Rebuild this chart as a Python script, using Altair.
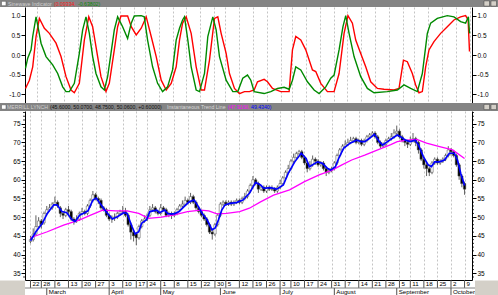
import altair as alt
import pandas as pd

# ---------------- data ----------------
week_idx = [0, 4, 9, 14, 19, 24, 29, 34, 39, 43, 48, 53, 58, 63, 68, 72, 77, 82, 87, 92,
            96, 101, 106, 111, 116, 121, 126, 131, 136, 140, 145, 150, 155, 160]
week_lbl = ["22", "28", "6", "13", "20", "27", "3", "10", "17", "24", "1", "8", "15", "22", "30",
            "5", "12", "19", "26", "3", "10", "17", "24", "31", "7", "14", "21", "28", "5", "11",
            "18", "25", "2", "9"]
month_idx = [6, 29, 48, 70, 92, 112, 135, 155]
month_lbl = ["March", "April", "May", "June", "July", "August", "September", "October"]

open_ = [43.5, 44.0, 45.5, 47.5, 49.0, 48.5, 51.0, 52.0, 52.5, 53.5,
         54.0, 52.5, 51.0, 50.5, 52.0, 51.5, 49.5, 49.0, 49.5, 51.0,
         51.5, 51.0, 53.0, 54.5, 56.0, 55.0, 54.5, 52.5, 52.0, 50.5,
         49.5, 50.0, 50.0, 51.0, 51.5, 51.5, 50.5, 48.0, 46.0, 45.5,
         44.5, 47.5, 49.0, 49.5, 50.5, 52.0, 52.5, 51.5, 51.0, 52.5,
         52.0, 50.5, 51.0, 50.5, 51.0, 52.0, 53.0, 53.5, 54.5, 54.0,
         55.5, 54.0, 52.5, 51.5, 50.5, 49.5, 48.0, 46.0, 45.5, 48.0,
         50.5, 53.5, 54.0, 53.5, 54.0, 53.5, 54.0, 54.5, 54.0, 55.0,
         55.5, 57.0, 58.5, 60.0, 59.0, 57.5, 58.0, 57.0, 58.0, 57.5,
         57.5, 57.0, 58.0, 59.0, 60.5, 62.0, 63.0, 65.0, 66.0, 67.0,
         67.5, 66.0, 64.5, 63.0, 64.0, 65.5, 65.0, 64.0, 64.5, 63.0,
         62.0, 62.5, 63.0, 64.5, 66.5, 68.0, 69.0, 69.5, 70.0, 70.5,
         71.0, 70.0, 70.5, 69.5, 70.5, 71.5, 72.0, 72.5, 71.5, 70.0,
         69.0, 69.5, 70.5, 71.0, 71.5, 72.5, 73.0, 71.5, 70.5, 70.0,
         69.5, 70.5, 71.0, 70.0, 68.0, 65.5, 64.0, 63.0, 62.0, 64.5,
         65.5, 64.5, 65.0, 65.5, 66.5, 68.0, 67.5, 66.5, 64.0, 61.0,
         59.0]
high = [45.0, 47.0, 50.5, 50.0, 49.5, 51.5, 53.0, 53.5, 54.0, 55.5,
        54.5, 53.0, 51.5, 52.5, 53.0, 52.0, 50.0, 50.5, 51.5, 52.5,
        52.0, 53.5, 55.0, 57.0, 56.5, 55.5, 55.0, 53.0, 52.5, 51.0,
        50.5, 51.0, 51.5, 52.0, 53.0, 52.5, 51.0, 48.5, 46.5, 46.0,
        48.0, 49.5, 50.5, 51.0, 53.0, 53.5, 53.0, 52.0, 53.5, 53.0,
        52.5, 51.5, 51.5, 51.5, 52.5, 53.5, 54.5, 55.5, 55.0, 56.5,
        56.0, 54.5, 53.0, 52.0, 51.0, 50.0, 48.5, 47.0, 48.5, 51.0,
        54.0, 54.5, 54.5, 54.5, 54.5, 54.5, 55.0, 55.0, 55.5, 56.5,
        57.5, 59.0, 61.0, 60.5, 59.5, 58.5, 58.5, 58.5, 58.5, 58.5,
        58.0, 58.5, 60.0, 61.0, 62.5, 64.0, 65.5, 67.0, 67.5, 68.0,
        68.0, 66.5, 65.0, 65.0, 66.5, 66.0, 65.5, 65.0, 65.0, 63.5,
        63.0, 63.5, 65.0, 67.0, 68.5, 69.5, 70.5, 71.0, 71.5, 71.5,
        71.5, 71.0, 71.0, 71.0, 72.0, 72.5, 73.0, 73.0, 72.0, 70.5,
        70.0, 71.0, 71.5, 72.5, 73.5, 74.5, 73.5, 72.0, 71.0, 70.5,
        71.5, 72.5, 71.5, 70.5, 68.5, 66.0, 64.5, 63.5, 65.0, 66.0,
        66.0, 65.5, 66.0, 67.0, 69.0, 68.5, 68.0, 67.0, 64.5, 61.5,
        59.5]
low = [43.0, 43.5, 45.0, 47.0, 47.0, 48.0, 50.5, 51.5, 52.0, 53.0,
       52.5, 50.0, 49.5, 50.0, 50.5, 49.0, 48.0, 48.5, 49.0, 50.5,
       50.5, 50.5, 52.5, 54.0, 54.5, 53.5, 52.0, 51.5, 50.0, 49.0,
       48.5, 49.0, 49.5, 50.5, 51.0, 50.0, 47.5, 44.0, 43.5, 42.5,
       44.0, 47.0, 48.5, 49.0, 50.0, 51.5, 51.0, 50.5, 50.5, 51.5,
       50.0, 50.0, 49.5, 50.0, 50.5, 51.5, 52.5, 53.0, 53.5, 53.5,
       53.5, 52.0, 51.0, 50.0, 49.0, 47.5, 45.5, 44.0, 45.0, 47.5,
       50.0, 53.0, 53.0, 53.0, 53.0, 53.0, 53.5, 53.5, 53.5, 54.5,
       55.0, 56.5, 58.0, 58.5, 56.5, 57.0, 56.5, 56.5, 57.0, 57.0,
       56.5, 56.5, 57.5, 58.5, 60.0, 61.5, 62.5, 64.5, 65.5, 66.5,
       65.5, 64.0, 62.0, 62.5, 63.5, 64.0, 63.5, 63.5, 62.5, 61.0,
       61.5, 62.0, 62.5, 64.0, 66.0, 67.5, 68.5, 69.0, 69.5, 70.0,
       69.5, 69.5, 69.0, 69.0, 70.0, 71.0, 71.5, 71.0, 69.5, 68.5,
       68.5, 69.0, 70.0, 70.5, 71.0, 72.0, 71.0, 70.0, 69.0, 68.5,
       69.0, 70.0, 69.0, 67.0, 65.0, 63.0, 61.0, 61.0, 61.5, 64.0,
       64.0, 64.0, 64.5, 65.0, 66.0, 66.5, 66.0, 63.5, 60.0, 58.0,
       56.0]
close = [44.0, 45.5, 47.5, 49.0, 48.0, 51.0, 52.0, 52.5, 53.5, 54.0,
         53.0, 51.0, 50.5, 52.0, 51.5, 49.5, 49.0, 49.5, 51.0, 51.5,
         51.0, 53.0, 54.5, 56.0, 55.0, 54.5, 52.5, 52.0, 50.5, 49.5,
         50.0, 50.0, 51.0, 51.5, 51.5, 50.5, 48.0, 46.0, 45.0, 44.5,
         47.5, 49.0, 49.5, 50.5, 52.0, 52.5, 51.5, 51.0, 52.5, 52.0,
         50.5, 51.0, 50.5, 51.0, 52.0, 53.0, 53.5, 54.5, 54.0, 55.5,
         54.0, 52.5, 51.5, 50.5, 49.5, 48.0, 46.0, 45.5, 48.0, 50.5,
         53.5, 54.0, 53.5, 54.0, 53.5, 54.0, 54.5, 54.0, 55.0, 55.5,
         57.0, 58.5, 60.0, 59.0, 57.5, 58.0, 57.0, 58.0, 57.5, 57.5,
         57.0, 58.0, 59.0, 60.5, 62.0, 63.0, 65.0, 66.0, 67.0, 67.5,
         66.0, 64.5, 63.0, 64.0, 65.5, 65.0, 64.0, 64.5, 63.0, 62.0,
         62.5, 63.0, 64.5, 66.5, 68.0, 69.0, 69.5, 70.0, 70.5, 71.0,
         70.0, 70.5, 69.5, 70.5, 71.5, 72.0, 72.5, 71.5, 70.0, 69.0,
         69.5, 70.5, 71.0, 71.5, 72.5, 73.0, 71.5, 70.5, 70.0, 69.5,
         70.5, 71.0, 70.0, 68.0, 65.5, 64.0, 63.0, 62.0, 64.5, 65.5,
         64.5, 65.0, 65.5, 66.5, 68.0, 67.5, 66.5, 64.0, 61.0, 59.0,
         57.5]

trend_x = [0, 2.0, 4.4, 6.2, 8.6, 9.8, 11.6, 13.4, 15.2, 16.4, 18.2, 20.0, 21.2, 23.0, 24.2,
           26.0, 27.8, 30.2, 32.0, 34.4, 35.6, 37.4, 38.6, 39.9, 41.0, 42.8, 44.0, 46.5, 47.6,
           49.4, 50.7, 53.0, 54.8, 56.6, 58.5, 60.3, 61.5, 63.3, 65.1, 66.9, 68.1, 69.3, 70.5,
           71.7, 73.5, 75.9, 78.3, 80.7, 83.0, 84.8, 86.0, 88.4, 90.8, 93.2, 95.0, 97.4, 99.8,
           101.6, 102.8, 104.0, 105.8, 107.6, 109.4, 110.6, 112.4, 113.6, 115.4, 117.8, 120.2,
           122.0, 123.2, 125.0, 126.8, 128.6, 129.8, 131.6, 133.4, 135.2, 136.4, 138.2, 140.0,
           141.8, 143.0, 144.8, 146.6, 147.8, 149.0, 150.8, 152.6, 154.4, 156.2, 157.4, 158.6, 160]
trend_y = [43.7, 46.1, 48.4, 51.0, 53.3, 53.3, 51.5, 51.2, 49.4, 48.8, 50.6, 51.2, 51.7, 54.6, 55.1,
           53.3, 51.5, 49.5, 50.1, 51.2, 51.0, 47.5, 45.5, 46.1, 48.4, 49.3, 51.5, 51.9, 51.2,
           51.9, 50.9, 50.9, 51.5, 52.8, 54.1, 54.6, 53.3, 51.0, 49.3, 46.6, 47.1, 49.3, 51.9,
           53.3, 53.7, 53.9, 54.6, 56.4, 59.3, 58.6, 57.7, 57.9, 57.5, 58.6, 61.7, 64.8, 67.1,
           65.7, 63.5, 64.0, 64.8, 64.4, 63.1, 62.6, 63.5, 65.7, 68.4, 69.8, 70.6,
           70.2, 70.2, 71.1, 72.2, 70.2, 69.3, 70.2, 71.1, 72.0, 71.5, 70.6, 70.2,
           70.6, 69.3, 66.2, 64.0, 63.5, 64.8, 64.8, 65.3, 67.1, 67.1, 65.3, 61.7, 58.5]

slow_x = [0, 6.2, 12.2, 18.2, 22.4, 26.6, 31.4, 35.6, 39.9, 43.5, 48.3, 53.0, 57.9, 62.7, 65.7,
          68.7, 72.3, 77.1, 80.7, 84.8, 89.6, 95.5, 101.0, 106.4, 111.2, 114.8, 118.4, 123.2,
          128.0, 132.8, 135.2, 138.8, 142.4, 146.0, 150.8, 155.6, 160]
slow_y = [44.5, 46.1, 47.9, 49.3, 50.6, 51.9, 51.7, 51.7, 51.0, 49.7, 50.0, 50.6, 51.5, 51.9, 51.7,
          50.9, 51.0, 51.5, 52.4, 54.1, 55.9, 57.3, 59.5, 61.3, 62.6, 64.0, 65.3, 66.6,
          68.0, 69.4, 70.2, 70.6, 70.8, 69.8, 68.9, 68.0, 65.7]

sine_x = [0, 1.4, 2.6, 3.8, 5.0, 6.8, 8.6, 11.0, 12.8, 14.6, 16.4, 17.6, 19.4, 21.2, 22.8, 24.2,
          26.0, 27.2, 29.0, 30.2, 32.0, 33.2, 34.4, 36.8, 38.1, 39.9, 41.7, 43.5, 45.3, 47.1,
          48.9, 50.7, 52.5, 54.3, 55.5, 56.6, 57.9, 59.7, 61.5, 63.3, 64.5, 66.3, 68.1, 69.3,
          70.5, 72.3, 73.5, 75.3, 77.1, 78.9, 80.7, 82.4, 83.6, 86.0, 87.2, 89.0, 92.0, 95.0,
          96.2, 97.4, 99.2, 101.0, 103.4, 104.6, 106.4, 108.8, 111.2, 113.0, 114.8, 116.2,
          117.8, 119.0, 120.8, 122.6, 124.4, 126.8, 129.2, 132.8, 134.6, 136.2, 137.6, 139.4,
          140.6, 141.8, 143.0, 144.2, 145.4, 147.2, 149.6, 152.0, 154.4, 156.8, 158.6, 159.5, 160]
sine_y = [-0.85, -0.64, -0.30, 0.47, 0.93, 0.68, 0.55, 0.30, -0.04, -0.55, -0.89, -0.96, -0.72,
          0.38, 0.97, 0.72, -0.04, -0.55, -0.93, -0.72, 0.13, 0.72, 0.99, 0.99, 0.72, 0.51,
          0.68, 0.97, 0.47, -0.04, -0.64, -0.89, -0.72, -0.30, 0.38, 0.81, 0.97, 0.55, -0.30,
          -0.89, -0.89, -0.13, 0.93, 0.97, 0.55, 0.04, -0.47, -0.85, -0.98, -0.93, -0.93,
          -0.89, -0.68, -0.62, -0.68, -0.85, -0.93, -0.93, 0.13, 0.47, 0.38, 0.13, -0.38,
          -0.42, -0.72, -0.93, -0.93, -0.47, 0.55, 1.0, 0.81, 0.38, 0.04, -0.30, -0.68, -0.85,
          -0.87, -0.89, -0.85, -0.13, -0.17, -0.47, -0.76, -0.96, -0.93, -0.30, 0.13, 0.34,
          0.55, 0.72, 0.89, 0.97, 1.0, 0.89, 0.09]

lead_x = [0, 0.8, 2.0, 2.6, 3.8, 4.4, 5.6, 7.4, 9.8, 11.6, 13.4, 14.6, 15.8, 17.6, 19.4, 20.6,
          21.8, 23.0, 24.2, 25.4, 27.2, 28.4, 29.6, 30.8, 32.0, 33.2, 35.0, 36.8, 38.1, 39.2,
          41.7, 42.8, 44.0, 45.8, 47.6, 49.4, 51.2, 53.0, 54.3, 55.5, 56.6, 57.3, 58.5, 59.7,
          61.5, 62.7, 64.5, 65.7, 67.5, 68.7, 69.9, 72.3, 74.7, 76.5, 78.3, 80.0, 81.2, 82.4,
          86.0, 88.4, 90.8, 93.2, 95.0, 96.2, 97.4, 99.2, 101.6, 104.0, 105.8, 108.2, 110.0,
          111.2, 113.0, 114.4, 115.4, 116.6, 118.4, 120.8, 123.2, 125.6, 130.4, 134.0, 136.4,
          138.8, 141.2, 143.0, 144.8, 146.0, 148.4, 152.0, 154.4, 156.8, 158.6, 159.6, 160]
lead_y = [-0.34, -0.08, 0.13, 0.47, 0.97, 0.76, 0.30, -0.04, -0.25, -0.47, -0.81, -0.93, -0.93,
          -0.72, 0.04, 0.64, 0.97, 0.55, -0.04, -0.47, -0.81, -0.89, -0.55, 0.04, 0.64, 0.97,
          0.72, 0.42, 0.81, 0.99, 1.0, 0.97, 0.38, -0.30, -0.72, -0.93, -0.81, -0.38, 0.38,
          0.68, 0.89, 0.97, 0.38, -0.30, -0.89, -0.93, -0.47, 0.47, 0.97, 0.64, -0.04, -0.64,
          -0.93, -0.93, -0.59, -0.51, -0.64, -0.93, -0.98, -0.93, -0.85, -0.82, -0.87, -0.64,
          -0.30, -0.38, -0.68, -0.89, -0.98, -0.81, -0.59, -0.51, 0.13, 0.72, 1.0, 0.55, -0.04,
          -0.55, -0.85, -0.96, -0.93, -0.89, -0.76, -0.85, -0.93, -0.47, 0.55, 0.81, 0.93, 1.0,
          0.97, 0.85, 0.81, 0.97, 0.55]

top_title = ["Sinewave Indicator", "(0.09334,", "-0.63802)"]
bot_title = ["MERRILL LYNCH", "(45.6000, 50.0700, 48.7500, 50.0600, +0.60000)",
             "Instantaneous Trend Line", "(47.9160,", "49.4340)"]
top_ticks = [-1.0, -0.5, 0.0, 0.5, 1.0]
bot_ticks = [35, 40, 45, 50, 55, 60, 65, 70, 75]
bot_minor = [v for v in range(34, 79) if v % 5 != 0]

# ---------------- layout constants ----------------
W, H1, H2 = 447, 96, 169
LEFT, RIGHT = 25, 26
FONT = "Liberation Sans"
BAR = "#848484"
FACE = "#d4d0c8"

xs = alt.Scale(domain=[-0.18, 160.9], nice=False, zero=False)
ys1 = alt.Scale(domain=[-1.22, 1.22], nice=False, zero=False)
ys2 = alt.Scale(domain=[33.2, 78.4], nice=False, zero=False)


def xaxis(domain):
    return alt.Axis(values=week_idx, grid=True, gridColor="#c4c4c4", gridDash=[2, 2],
                    gridWidth=1, ticks=False, labels=False, domain=domain,
                    domainColor="#000000", domainWidth=1, title=None,
                    minExtent=0, maxExtent=0)


def yaxis(orient, values, expr, ext):
    return alt.Axis(orient=orient, values=values, labelExpr=expr, tickSize=4,
                    tickColor="#000000", labelPadding=1, domain=True,
                    domainColor="#000000", labelFont=FONT, labelFontSize=6.5,
                    labelColor="#000000", grid=False, title=None, minExtent=ext,
                    maxExtent=ext, labelFlush=False, labelOverlap=False)


fmt1 = "replace(format(datum.value, '.1f'), '\u2212', '-')"
fmt0 = "format(datum.value, 'd')"

one = alt.Data(values=[{"a": 1}])

x_top = alt.X("i:Q", scale=xs, axis=xaxis(False))
x_bot = alt.X("i:Q", scale=xs, axis=xaxis(True))


def header(ytop, texts, colors, xpos):
    ymid = ytop / 2.0
    lay = [
        alt.Chart(one).mark_rect(color=BAR).encode(
            x=alt.value(-LEFT), x2=alt.value(W + RIGHT), y=alt.value(ytop), y2=alt.value(0)),
        alt.Chart(one).mark_rect(fill="#ffffff", stroke="#505050", strokeWidth=0.5).encode(
            x=alt.value(-LEFT + 1.5), x2=alt.value(-LEFT + 6), y=alt.value(ymid - 2.2),
            y2=alt.value(ymid + 2.2)),
    ]
    for bx in (W + 12, W + 19):
        lay.append(alt.Chart(one).mark_rect(fill=FACE, stroke="#404040", strokeWidth=0.5).encode(
            x=alt.value(bx), x2=alt.value(bx + 5.5), y=alt.value(ymid - 2.6),
            y2=alt.value(ymid + 2.6)))
    for t, c, px in zip(texts, colors, xpos):
        lay.append(alt.Chart(one).mark_text(text=t, color=c, font=FONT, fontSize=5.2,
                                            align="left", baseline="middle").encode(
            x=alt.value(px), y=alt.value(ymid + 0.3)))
    return lay


# ---------------- top panel ----------------
df_sine = pd.DataFrame({"i": sine_x, "v": sine_y})
df_lead = pd.DataFrame({"i": lead_x, "v": lead_y})

red = alt.Chart(df_sine).mark_line(color="#ff0000", strokeWidth=1.4).encode(
    x=x_top, y=alt.Y("v:Q", scale=ys1, axis=yaxis("left", top_ticks, fmt1, LEFT)))
green = alt.Chart(df_lead).mark_line(color="#008a00", strokeWidth=1.4).encode(
    x=x_top, y=alt.Y("v:Q", scale=ys1, axis=yaxis("right", top_ticks, fmt1, RIGHT)))

top = alt.layer(
    red, green,
    *header(-7, top_title, ["#d0d0d0", "#ff1a1a", "#0a8a0a"], [-17, 29, 53]),
).resolve_axis(y="independent").properties(width=W, height=H1)

# ---------------- bottom panel ----------------
df = pd.DataFrame({"i": list(range(len(close))), "o": open_, "h": high, "l": low, "c": close})
df_trend = pd.DataFrame({"i": trend_x, "v": trend_y})
df_slow = pd.DataFrame({"i": slow_x, "v": slow_y})
df_week = pd.DataFrame({"i": week_idx, "lbl": week_lbl})
df_month = pd.DataFrame({"i": month_idx, "lbl": month_lbl})
df_minor = pd.DataFrame({"v": bot_minor})

wick = alt.Chart(df).mark_rule(color="#3a3a3a", strokeWidth=0.8).encode(
    x=x_bot, y=alt.Y("l:Q", scale=ys2, axis=yaxis("left", bot_ticks, fmt0, LEFT)), y2="h:Q")
body = alt.Chart(df).mark_bar(size=2.4, stroke="#4a4a4a", strokeWidth=0.5).encode(
    x=x_bot, y=alt.Y("o:Q", scale=ys2, axis=None), y2="c:Q",
    fill=alt.condition("datum.c >= datum.o", alt.value("#ffffff"), alt.value("#000000")))
mag = alt.Chart(df_slow).mark_line(color="#ff00ff", strokeWidth=1.3).encode(
    x=x_bot, y=alt.Y("v:Q", scale=ys2, axis=None))
blue = alt.Chart(df_trend).mark_line(color="#0000ff", strokeWidth=1.7).encode(
    x=x_bot, y=alt.Y("v:Q", scale=ys2, axis=yaxis("right", bot_ticks, fmt0, RIGHT)))
minor_l = alt.Chart(df_minor).mark_rule(color="#000000", strokeWidth=0.8).encode(
    x=alt.value(-2), x2=alt.value(0), y=alt.Y("v:Q", scale=ys2, axis=None))
minor_r = alt.Chart(df_minor).mark_rule(color="#000000", strokeWidth=0.8).encode(
    x=alt.value(W), x2=alt.value(W + 2), y=alt.Y("v:Q", scale=ys2, axis=None))

day_sep = alt.Chart(df_week).mark_rule(color="#505050", strokeWidth=1).encode(
    x=x_bot, y=alt.value(H2), y2=alt.value(H2 + 8))
day_txt = alt.Chart(df_week).mark_text(font=FONT, fontSize=6.2, align="left", baseline="middle",
                                       dx=2, color="#000000").encode(
    x=x_bot, y=alt.value(H2 + 4.3), text="lbl:N")
row_div = alt.Chart(one).mark_rule(color="#808080", strokeWidth=1).encode(
    x=alt.value(0), x2=alt.value(W + 3), y=alt.value(H2 + 8))
mon_sep = alt.Chart(df_month).mark_rule(color="#505050", strokeWidth=1).encode(
    x=x_bot, y=alt.value(H2 + 8), y2=alt.value(H2 + 15))
mon_txt = alt.Chart(df_month).mark_text(font=FONT, fontSize=6.2, align="left", baseline="middle",
                                        dx=2, color="#000000").encode(
    x=x_bot, y=alt.value(H2 + 11.8), text="lbl:N")
box_l = alt.Chart(one).mark_rect(color=FACE).encode(
    x=alt.value(-LEFT), x2=alt.value(0), y=alt.value(H2 + 0.5), y2=alt.value(H2 + 15))
box_r = alt.Chart(one).mark_rect(color=FACE).encode(
    x=alt.value(W + 3), x2=alt.value(W + RIGHT), y=alt.value(H2 + 0.5), y2=alt.value(H2 + 15))

bottom = alt.layer(
    wick, body, mag, blue, minor_l, minor_r,
    day_sep, day_txt, row_div, mon_sep, mon_txt, box_l, box_r,
    *header(-8, bot_title, ["#d0d0d0", "#101010", "#d8d8d8", "#ff00ff", "#0000ff"],
            [-18, 25, 142, 203, 226]),
).resolve_axis(y="independent").properties(width=W, height=H2)

chart = alt.vconcat(top, bottom, spacing=0).properties(
    padding=0, background="white").configure_view(stroke=None)

chart.save("out.html", embed_options={"renderer": "svg", "actions": False})
